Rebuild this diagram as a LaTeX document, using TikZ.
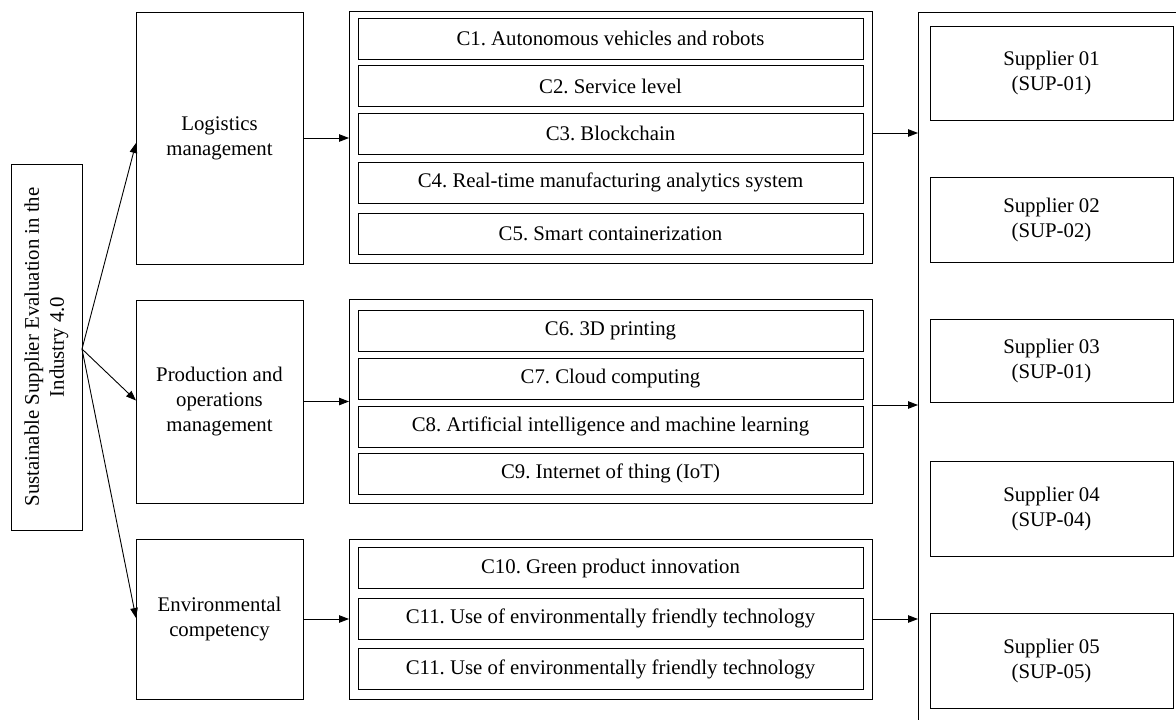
\documentclass[tikz,border=0pt]{standalone}
\usepackage{fontspec}
\setmainfont{Liberation Serif}
\usetikzlibrary{arrows.meta,calc}
\frenchspacing
\begin{document}
\begin{tikzpicture}[x=1pt,y=-1pt,
  box/.style={draw, line width=0.9pt, inner sep=0pt, outer sep=0pt, align=center,
    font=\fontsize{20.8}{25}\selectfont},
  cbox/.style={box, minimum width=505pt, minimum height=41pt},
  supbox/.style={box, minimum width=243pt},
  arr/.style={line width=0.9pt, -{Triangle[length=10pt,width=7.5pt]}}]
\useasboundingbox (0,0) rectangle (1176,720);
% root
\node[box, rotate=90, minimum width=366pt, minimum height=71pt] (root) at (46.5,347)
  {Sustainable Supplier Evaluation in the\\Industry 4.0};
\coordinate (rootout) at (82,349);
% dimensions
\node[box, minimum width=167pt, minimum height=252pt] (log) at (219.5,138) {Logistics\\management};
\node[box, minimum width=167pt, minimum height=203pt] (prod) at (219.5,401.5) {Production and\\operations\\management};
\node[box, minimum width=167pt, minimum height=160pt] (env) at (219.5,619) {Environmental\\competency};
% groups
\node[box, minimum width=523pt, minimum height=252pt] (g1) at (610.5,137) {};
\node[box, minimum width=523pt, minimum height=204pt] (g2) at (610.5,401) {};
\node[box, minimum width=523pt, minimum height=160pt] (g3) at (610.5,619) {};
\node[cbox] (c1) at (610.5,38.5) {C1. Autonomous vehicles and robots};
\node[cbox] (c2) at (610.5,86) {C2. Service level};
\node[cbox] (c3) at (610.5,133.5) {C3. Blockchain};
\node[cbox] (c4) at (610.5,182.5) {C4. Real-time manufacturing analytics system};
\node[cbox] (c5) at (610.5,233.5) {C5. Smart containerization};
\node[cbox] (c6) at (610.5,330.5) {C6. 3D printing};
\node[cbox] (c7) at (610.5,378.5) {C7. Cloud computing};
\node[cbox] (c8) at (610.5,426.5) {C8. Artificial intelligence and machine learning};
\node[cbox] (c9) at (610.5,473.5) {C9. Internet of thing (IoT)};
\node[cbox] (c10) at (610.5,568) {C10. Green product innovation};
\node[cbox] (c11) at (610.5,618.5) {C11. Use of environmentally friendly technology};
\node[cbox] (c12) at (610.5,669) {C11. Use of environmentally friendly technology};
% supplier frame (open at right and bottom)
\coordinate (frametop) at (918,12);
\draw[line width=0.9pt] (1176,12) -- (frametop) -- (918,720);
\node[supbox, minimum height=94pt] (s1) at (1051.5,73) {Supplier 01\\(SUP-01)};
\node[supbox, minimum height=85pt] (s2) at (1051.5,219.5) {Supplier 02\\(SUP-02)};
\node[supbox, minimum height=83pt] (s3) at (1051.5,360.5) {Supplier 03\\(SUP-01)};
\node[supbox, minimum height=95pt] (s4) at (1051.5,508.5) {Supplier 04\\(SUP-04)};
\node[supbox, minimum height=95pt] (s5) at (1051.5,660.5) {Supplier 05\\(SUP-05)};
% connectors
\draw[arr] (rootout) -- ($(log.west)+(0,5)$);
\draw[arr] (rootout) -- ($(prod.west)+(0,-1)$);
\draw[arr] (rootout) -- ($(env.west)+(0,-1)$);
\draw[arr] (log.east) -- (log.east -| g1.west);
\draw[arr] (prod.east) -- (prod.east -| g2.west);
\draw[arr] (env.east) -- (env.east -| g3.west);
\coordinate (o1) at ($(g1.east)+(0,-4)$);
\coordinate (o2) at ($(g2.east)+(0,4)$);
\draw[arr] (o1) -- (o1 -| frametop);
\draw[arr] (o2) -- (o2 -| frametop);
\draw[arr] (g3.east) -- (g3.east -| frametop);
\end{tikzpicture}
\end{document}
